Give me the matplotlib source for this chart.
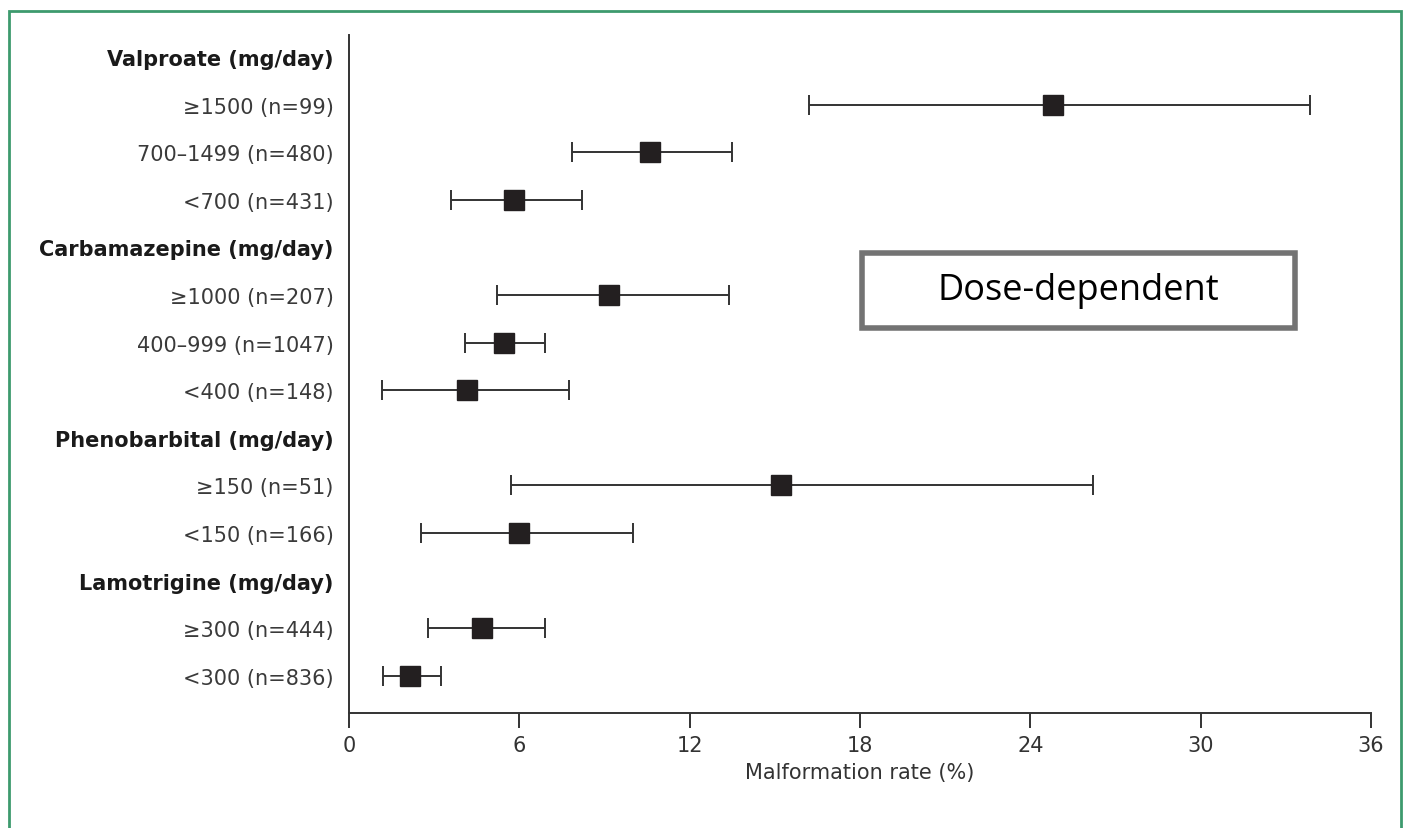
import numpy as np
import matplotlib
matplotlib.use('Agg')
import matplotlib.pyplot as plt
from matplotlib.patches import Rectangle

# drug groups and the dose strata under each of them
groups = ['Valproate (mg/day)', 'Carbamazepine (mg/day)',
          'Phenobarbital (mg/day)', 'Lamotrigine (mg/day)']
group_sizes = [3, 3, 2, 2]
dose_labels = ['≥1500 (n=99)', '700–1499 (n=480)', '<700 (n=431)',
               '≥1000 (n=207)', '400–999 (n=1047)', '<400 (n=148)',
               '≥150 (n=51)', '<150 (n=166)',
               '≥300 (n=444)', '<300 (n=836)']

# malformation rate (%) and 95% CI
rate = [24.8, 10.6, 5.8, 9.15, 5.45, 4.15, 15.2, 6.0, 4.7, 2.15]
ci_low = [16.2, 7.85, 3.6, 5.2, 4.1, 1.15, 5.7, 2.55, 2.8, 1.2]
ci_high = [33.85, 13.5, 8.2, 13.4, 6.9, 7.75, 26.2, 10.0, 6.9, 3.25]

xticks = [0, 6, 12, 18, 24, 30, 36]


def build_rows():
    """header row for each drug followed by its dose rows"""
    labels, is_header, dose_pos = [], [], []
    k = 0
    for g, n in zip(groups, group_sizes):
        labels.append(g)
        is_header.append(True)
        for _ in range(n):
            dose_pos.append(len(labels))
            labels.append(dose_labels[k])
            is_header.append(False)
            k += 1
    return labels, is_header, dose_pos


def plotting():
    labels, is_header, dose_pos = build_rows()
    r = np.array(rate)
    lo = np.array(ci_low)
    hi = np.array(ci_high)

    fig = plt.figure(figsize=(14.06, 8.29), dpi=100)
    ax = fig.add_axes([349 / 1406, 1 - 714 / 829,
                       (1371 - 349) / 1406, (714 - 36) / 829])

    ax.errorbar(r, dose_pos, xerr=[r - lo, hi - r], fmt='s',
                color='#333333', ecolor='#333333', elinewidth=1.4,
                capsize=7.2, capthick=1.4, markersize=14,
                markerfacecolor='#231f20', markeredgecolor='#231f20')

    ax.set_xlim(0, 36)
    ax.set_ylim(len(labels) - 1 + 0.78, -0.46)
    ax.set_xticks(xticks)
    ax.set_xticklabels([str(x) for x in xticks], fontsize=15,
                       color='#333333')
    ax.set_yticks(range(len(labels)))
    ax.set_yticklabels(labels, fontsize=15)
    for t, h in zip(ax.get_yticklabels(), is_header):
        if h:
            t.set_fontweight('bold')
            t.set_color('#1a1a1a')
        else:
            t.set_color('#3a3a3a')
    ax.tick_params(axis='y', length=0, pad=11)
    ax.tick_params(axis='x', length=11, width=1.4, color='#333333',
                   pad=5)
    ax.set_xlabel('Malformation rate (%)', fontsize=15, color='#333333',
                  labelpad=5)

    for s in ['top', 'right']:
        ax.spines[s].set_visible(False)
    for s in ['left', 'bottom']:
        ax.spines[s].set_linewidth(1.4)
        ax.spines[s].set_color('#333333')

    # "Dose-dependent" call-out box
    fig.patches.append(Rectangle((862 / 1406, 1 - 329 / 829),
                                 433 / 1406, 75 / 829,
                                 transform=fig.transFigure,
                                 facecolor='white', edgecolor='#737373',
                                 linewidth=4))
    fig.text(1078.5 / 1406, 1 - 291 / 829, 'Dose-dependent',
             family=['Open Sans', 'DejaVu Sans'], fontsize=26,
             color='black', ha='center', va='center')

    # green frame around the panel
    fig.patches.append(Rectangle((9 / 1406, -0.02), 1392 / 1406,
                                 1.02 - 12 / 829,
                                 transform=fig.transFigure,
                                 facecolor='none', edgecolor='#3d9a6e',
                                 linewidth=2))

    fig.savefig('out.png', dpi=100, facecolor='white')


if __name__ == '__main__':
    plotting()
